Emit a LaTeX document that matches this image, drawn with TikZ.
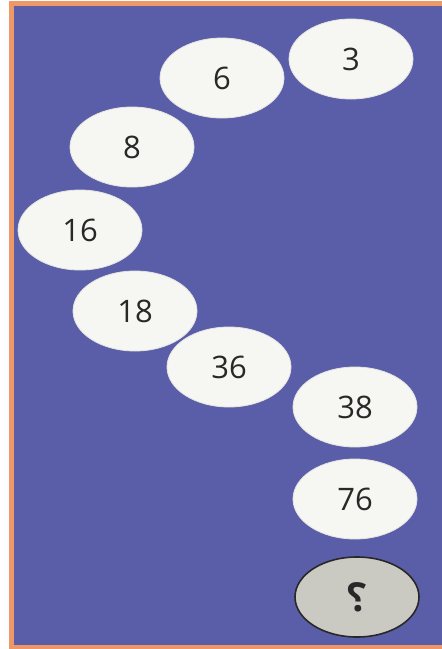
\documentclass[tikz,border=0pt]{standalone}
\usepackage{fontspec}
\setmainfont{Open Sans}
\usepackage{tikz}
\usetikzlibrary{shapes.geometric}
\definecolor{bgblue}{RGB}{90,94,168}
\definecolor{frameorange}{RGB}{238,152,104}
\definecolor{discwhite}{RGB}{246,246,242}
\definecolor{discgrey}{RGB}{202,202,194}
\definecolor{numgrey}{RGB}{40,40,40}

\begin{document}
\begin{tikzpicture}[x=0.5pt, y=-0.5pt,
  disc/.style={ellipse, fill=discwhite, draw=discwhite!85!gray, line width=0.4pt,
    minimum width=62pt, minimum height=40pt, inner sep=0pt,
    text=numgrey, font=\fontsize{15.5}{18}\selectfont},
  lastdisc/.style={disc, fill=discgrey, draw=numgrey, line width=0.8pt,
    font=\fontsize{20}{24}\selectfont\bfseries}]
\useasboundingbox (0,0) rectangle (442,649);
\fill[white] (0,0) rectangle (442,649);
\fill[frameorange] (9,1) rectangle (442,649);
\fill[bgblue] (14,6) rectangle (442,645);
\node[disc] (n3) at (351,59) {3};
\node[disc] (n6) at (222,78) {6};
\node[disc] (n8) at (132,147) {8};
\node[disc] (n16) at (80,230) {16};
\node[disc] (n18) at (135,311) {18};
\node[disc] (n36) at (229,367) {36};
\node[disc] (n38) at (355,407) {38};
\node[disc] (n76) at (355,499) {76};
\node[lastdisc] (nq) at (357,597) {\reflectbox{?}};
\end{tikzpicture}
\end{document}
